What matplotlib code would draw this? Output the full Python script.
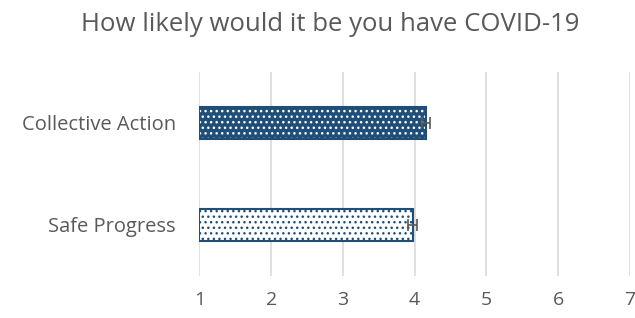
import matplotlib.pyplot as plt

plt.rcParams['font.family'] = ['Open Sans', 'DejaVu Sans']

categories = ["Safe Progress", "Collective Action"]
means = [3.97, 4.16]
errors = [0.06, 0.06]
ticks = [1, 2, 3, 4, 5, 6, 7]

navy = "#1f4e79"
text_col = "#595959"

fig = plt.figure(figsize=(6.35, 3.18), dpi=100)
ax = fig.add_axes([0.314, 0.132, 0.678, 0.642])

ypos = list(range(len(categories)))
widths = [m - 1 for m in means]
faces = ["white", navy]
dots = [navy, "white"]

# hatch takes the edge colour, so draw the dots first and the outline on top
for y, w, fc, dc in zip(ypos, widths, faces, dots):
    ax.barh(y, w, left=1, height=0.32, color=fc, edgecolor=dc, hatch="...", linewidth=0, zorder=2)
    ax.barh(y, w, left=1, height=0.32, fill=False, edgecolor=navy, linewidth=1.5, zorder=3)

ax.errorbar(means, ypos, xerr=errors, fmt="none", ecolor=text_col, elinewidth=1.2, capsize=4.5, capthick=1.2, zorder=4)

ax.set_xlim(1, 7)
ax.set_ylim(-0.5, 1.5)
ax.set_xticks(ticks)
ax.set_yticks(ypos)
ax.set_yticklabels(categories)
ax.grid(axis="x", color="#d9d9d9", linewidth=1.2, zorder=0)
ax.set_axisbelow(True)
for s in ax.spines.values():
    s.set_visible(False)
ax.tick_params(length=0, labelsize=14.5, labelcolor=text_col)
ax.tick_params(axis="x", labelsize=14, pad=11)
ax.tick_params(axis="y", pad=17)

fig.text(0.52, 1 - 31 / 318, "How likely would it be you have COVID-19", ha="center", va="baseline",
         fontsize=18.5, color=text_col)

fig.savefig("out.png", dpi=100)
